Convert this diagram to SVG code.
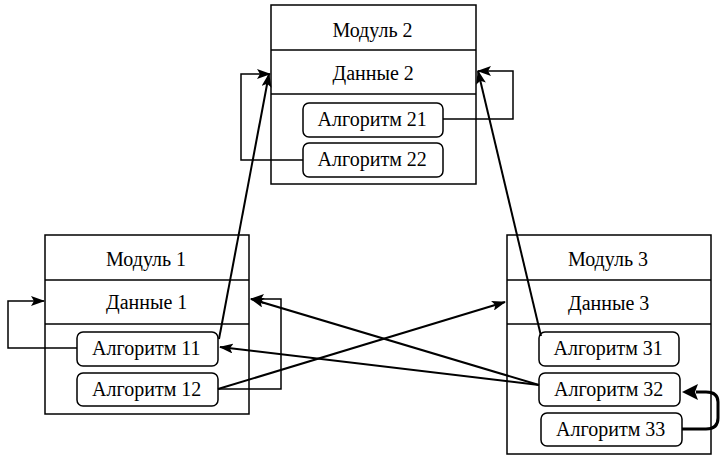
<svg xmlns="http://www.w3.org/2000/svg" width="720" height="460" viewBox="0 0 720 460">
<defs>
<marker id="ah" markerUnits="userSpaceOnUse" markerWidth="14" markerHeight="10" refX="13" refY="5" orient="auto">
<path d="M0,0 L14,5 L0,10 L3,5 Z" fill="#000"/>
</marker>
</defs>
<g fill="#fff" stroke="#000" stroke-width="1.5">
<g id="module2">
<rect x="271" y="5" width="205" height="179"/>
<line x1="271" y1="50" x2="476" y2="50"/>
<line x1="271" y1="94" x2="476" y2="94"/>
</g>
<g id="module1">
<rect x="45" y="235" width="204" height="179"/>
<line x1="45" y1="280" x2="249" y2="280"/>
<line x1="45" y1="324" x2="249" y2="324"/>
</g>
<g id="module3">
<rect x="507" y="235" width="204" height="219"/>
<line x1="507" y1="280" x2="711" y2="280"/>
<line x1="507" y1="324" x2="711" y2="324"/>
</g>
<g id="alg21"><rect x="303" y="103" width="140" height="34" rx="6"/></g>
<g id="alg22"><rect x="303" y="143" width="140" height="34" rx="6"/></g>
<g id="alg11"><rect x="77" y="332" width="141" height="34" rx="6"/></g>
<g id="alg12"><rect x="77" y="373" width="141" height="33" rx="6"/></g>
<g id="alg31"><rect x="539" y="332" width="140" height="34" rx="6"/></g>
<g id="alg32"><rect x="539" y="373" width="141" height="33" rx="6"/></g>
<g id="alg33"><rect x="541" y="413" width="141" height="33" rx="6"/></g>
</g>
<g id="labels" font-family="Liberation Serif" font-size="20" fill="#000">
<text x="332.4" y="37">Модуль 2</text>
<text x="332.6" y="80">Данные 2</text>
<text x="317.6" y="126">Алгоритм 21</text>
<text x="317.6" y="166">Алгоритм 22</text>
<text x="106" y="266">Модуль 1</text>
<text x="106.1" y="309">Данные 1</text>
<text x="92.1" y="355">Алгоритм 11</text>
<text x="92.1" y="396">Алгоритм 12</text>
<text x="567.9" y="266">Модуль 3</text>
<text x="568.1" y="310">Данные 3</text>
<text x="553.6" y="355">Алгоритм 31</text>
<text x="554.1" y="396">Алгоритм 32</text>
<text x="556.1" y="436">Алгоритм 33</text>
</g>
<g id="connectors" fill="none" stroke="#000">
<path stroke-width="1.5" d="M303,160 H241 V74 H270" marker-end="url(#ah)"/>
<path stroke-width="1.5" d="M443,119 H513 V71 H478" marker-end="url(#ah)"/>
<path stroke-width="1.5" d="M77,348 H8 V301 H44" marker-end="url(#ah)"/>
<path stroke-width="1.5" d="M218,389 H281 V299 H251" marker-end="url(#ah)"/>
<path stroke-width="2" d="M219,339 L269,74" marker-end="url(#ah)"/>
<path stroke-width="2" d="M541,336 L478,71" marker-end="url(#ah)"/>
<path stroke-width="2" d="M539,385 L220,347" marker-end="url(#ah)"/>
<path stroke-width="2" d="M539,385 L251,299" marker-end="url(#ah)"/>
<path stroke-width="2" d="M218,389 L505,302" marker-end="url(#ah)"/>
<path stroke-width="3" d="M682,429 H706 Q718,429 718,418 V402 Q718,392 706,392 H696"/>
<path stroke="none" fill="#000" d="M682,392 L698,384 L695,392 L698,400 Z"/>
</g>
</svg>
